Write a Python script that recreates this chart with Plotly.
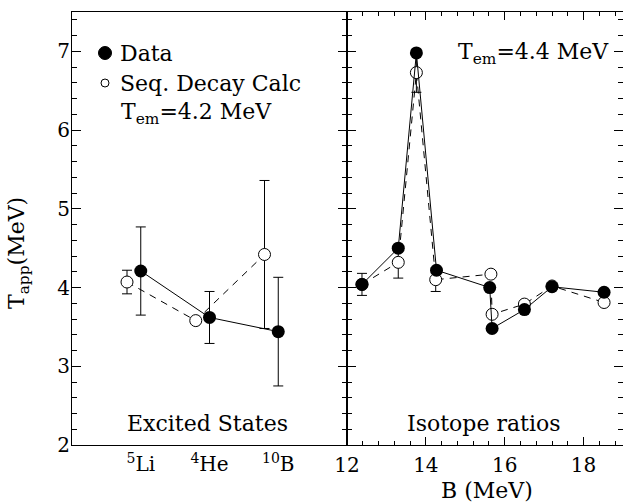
import plotly.graph_objects as go
import numpy as np

# ---------------- data ----------------
states = ["<sup>5</sup>Li", "<sup>4</sup>He", "<sup>10</sup>B"]
exc_data = [4.21, 3.62, 3.44]
exc_data_err = [0.56, 0.33, 0.69]
exc_calc = [4.07, 3.58, 4.42]
exc_calc_err = [0.15, 0.0, 0.94]

b_data = [12.38, 13.30, 13.76, 14.27, 15.62, 15.68, 16.50, 17.20, 18.52]
iso_data = [4.04, 4.50, 6.98, 4.22, 4.00, 3.48, 3.72, 4.01, 3.94]
b_calc = [12.38, 13.30, 13.76, 14.25, 15.65, 15.68, 16.50, 17.20, 18.52]
iso_calc = [4.04, 4.32, 6.73, 4.10, 4.17, 3.66, 3.79, 4.02, 3.81]
iso_calc_err = [0.14, 0.20, 0.25, 0.15, 0, 0, 0, 0, 0]

# ---------------- layout constants ----------------
W, H = 623, 504
ML, MR, MT, MB = 72, 0, 12, 59
PW, PH = W - ML - MR, H - MT - MB
FONT = "DejaVu Serif"
split = (347 - ML) / PW

def px(x):
    return (x - ML) / PW

def py(y):
    return (H - MB - y) / PH

idx = np.arange(len(states))
calc_offset = 0.2

fig = go.Figure()

err_style = dict(type="data", thickness=1, width=5, color="black")

# Left panel: excited states
fig.add_trace(go.Scatter(
    x=idx - calc_offset, y=exc_calc, mode="lines+markers",
    line=dict(color="black", width=1, dash="7px,6px"),
    marker=dict(symbol="circle", size=12, color="white", line=dict(color="black", width=1)),
    error_y=dict(array=exc_calc_err, **err_style),
    xaxis="x", yaxis="y", showlegend=False, hoverinfo="skip"))
fig.add_trace(go.Scatter(
    x=idx, y=exc_data, mode="lines+markers",
    line=dict(color="black", width=1),
    marker=dict(symbol="circle", size=13, color="black"),
    error_y=dict(array=exc_data_err, **err_style),
    xaxis="x", yaxis="y", showlegend=False, hoverinfo="skip"))

# Right panel: isotope ratios
fig.add_trace(go.Scatter(
    x=b_calc, y=iso_calc, mode="lines+markers",
    line=dict(color="black", width=1, dash="7px,6px"),
    marker=dict(symbol="circle", size=12, color="white", line=dict(color="black", width=1)),
    error_y=dict(array=iso_calc_err, **err_style),
    xaxis="x2", yaxis="y2", showlegend=False, hoverinfo="skip"))
fig.add_trace(go.Scatter(
    x=b_data, y=iso_data, mode="lines+markers",
    line=dict(color="black", width=1),
    marker=dict(symbol="circle", size=13, color="black"),
    xaxis="x2", yaxis="y2", showlegend=False, hoverinfo="skip"))

axis_common = dict(showline=True, linecolor="black", linewidth=1, zeroline=False,
                   showgrid=False, tickcolor="black", tickwidth=1,
                   tickfont=dict(family=FONT, size=20, color="black"))

fig.update_layout(
    width=W, height=H,
    margin=dict(l=ML, r=MR, t=MT, b=MB),
    paper_bgcolor="white", plot_bgcolor="white",
    xaxis=dict(domain=[0, split], range=[-1, 3], tickvals=list(idx), ticktext=states,
               ticks="", mirror=True, anchor="y", ticklabelstandoff=1, **axis_common),
    yaxis=dict(domain=[0, 1], range=[2, 7.5], tick0=0, dtick=1, ticks="inside", ticklen=9,
               minor=dict(dtick=0.2, ticklen=5, ticks="inside", tickcolor="black"),
               mirror="allticks", anchor="x", ticklabelstandoff=-3, **axis_common),
    xaxis2=dict(domain=[split, 1], range=[12, 19], tick0=0, dtick=2, ticks="inside", ticklen=8,
                minor=dict(dtick=0.4, ticklen=4, ticks="inside", tickcolor="black"),
                mirror="allticks", anchor="y2", ticklabelstandoff=2, **axis_common),
    yaxis2=dict(domain=[0, 1], range=[2, 7.5], tick0=0, dtick=1, ticks="inside", ticklen=9,
                minor=dict(dtick=0.2, ticklen=5, ticks="inside", tickcolor="black"),
                mirror="allticks", anchor="x2", showticklabels=False, **axis_common),
)

txt_font = dict(family=FONT, size=22, color="black")
annos = [
    dict(text="Data", x=px(118), y=py(53), xanchor="left", yanchor="middle"),
    dict(text="Seq. Decay Calc", x=px(118), y=py(83), xanchor="left", yanchor="middle"),
    dict(text="T<sub>em</sub>=4.2 MeV", x=px(119), y=py(113), xanchor="left", yanchor="middle"),
    dict(text="T<sub>em</sub>=4.4 MeV", x=px(611), y=py(54), xanchor="right", yanchor="middle"),
    dict(text="Excited States", x=px(207), y=py(423), xanchor="center", yanchor="middle"),
    dict(text="Isotope ratios", x=px(483), y=py(423), xanchor="center", yanchor="middle"),
    dict(text="B (MeV)", x=px(487), y=py(490), xanchor="center", yanchor="middle"),
    dict(text="T<sub>app</sub>(MeV)", x=px(18), y=py(253), xanchor="center", yanchor="middle",
         textangle=-90),
]
for a in annos:
    fig.add_annotation(xref="paper", yref="paper", showarrow=False, font=txt_font, **a)

# legend symbols
fig.add_shape(type="circle", xref="paper", yref="paper", xsizemode="pixel", ysizemode="pixel",
              xanchor=px(105), yanchor=py(53), x0=-6.5, x1=6.5, y0=-6.5, y1=6.5,
              fillcolor="black", line=dict(color="black", width=1))
fig.add_shape(type="circle", xref="paper", yref="paper", xsizemode="pixel", ysizemode="pixel",
              xanchor=px(105), yanchor=py(83), x0=-4, x1=4, y0=-4, y1=4,
              fillcolor="white", line=dict(color="black", width=1))

fig.write_html("out.html", config={"displayModeBar": False},
               post_script="document.body.style.margin='0';")
